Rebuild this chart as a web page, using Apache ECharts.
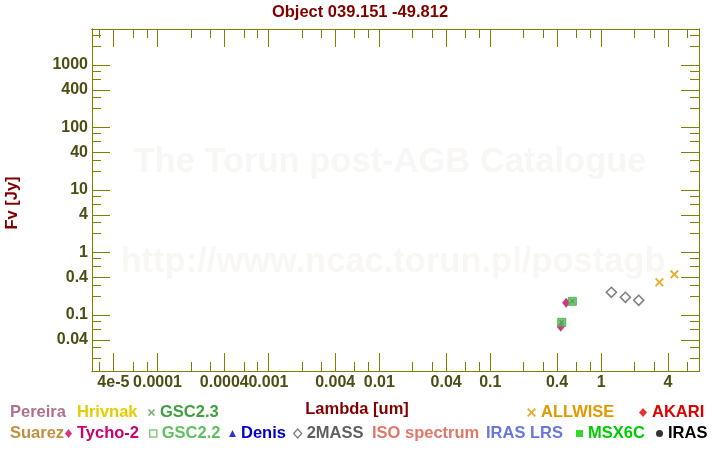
<!DOCTYPE html>
<html><head><meta charset="utf-8">
<script src="https://cdn.jsdelivr.net/npm/echarts@6/dist/echarts.min.js"></script>
<style>html,body{margin:0;padding:0;background:#fff}#c{width:720px;height:450px}</style>
</head><body><div id="c"></div>
<script>
// ---- data ----
const titleText = 'Object 039.151 -49.812';
const xName = 'Lambda [um]';
const yName = 'Fv [Jy]';
const xMajorTicks = [4e-5, 1e-4, 4e-4, 1e-3, 4e-3, 0.01, 0.04, 0.1, 0.4, 1, 4];
const xMajorLabels = ['4e-5', '0.0001', '0.0004', '0.001', '0.004', '0.01', '0.04', '0.1', '0.4', '1', '4'];
const xMinorTicks = [3e-5, 6e-5, 8e-5, 2e-4, 3e-4, 6e-4, 8e-4, 2e-3, 3e-3, 6e-3, 8e-3, 0.02, 0.03, 0.06, 0.08, 0.2, 0.3, 0.6, 0.8, 2, 3, 6];
const yMajorTicks = [0.04, 0.1, 0.4, 1, 4, 10, 40, 100, 400, 1000];
const yMajorLabels = ['0.04', '0.1', '0.4', '1', '4', '10', '40', '100', '400', '1000'];
const yMinorTicks = [0.02, 0.03, 0.06, 0.08, 0.2, 0.3, 0.6, 0.8, 2, 3, 6, 8, 20, 30, 60, 80, 200, 300, 600, 800, 2000, 3000];
const xRange = [2.566e-5, 7.62];
const yRange = [0.01271, 3767];

const pereira = [];
const hrivnak = [];
const suarez = [];
const tycho2 = [[0.432, 0.065], [0.483, 0.157]];
const gsc23 = [[0.441, 0.0764], [0.550, 0.1656]];
const gsc22 = [[0.441, 0.0764], [0.550, 0.1656]];
const denis = [];
const twoMass = [[1.236, 0.231], [1.653, 0.192], [2.18, 0.172]];
const isoSpectrum = [];
const irasLrs = [];
const allwise = [[3.35, 0.334], [4.57, 0.448]];
const akari = [];
const msx6c = [];
const iras = [];

// ---- styles ----
const FONT = 'Liberation Sans, Arial, Helvetica, sans-serif';
const AXIS = '#808000';
const LABEL = '#4d4d14';
const DARKRED = '#800000';
const CROSS = 'path://M0,1.5L1.5,0L5,3.5L8.5,0L10,1.5L6.5,5L10,8.5L8.5,10L5,6.5L1.5,10L0,8.5L3.5,5Z';

function fmt(values, labels) {
  return function (v) {
    let best = 0, bd = Infinity;
    values.forEach((t, i) => { const d = Math.abs(Math.log10(v) - Math.log10(t)); if (d < bd) { bd = d; best = i; } });
    return labels[best];
  };
}

function xAxisDef(position, ticks, len, labels) {
  return {
    type: 'log', logBase: 10, position: position, min: xRange[0], max: xRange[1],
    axisLine: { show: true, onZero: false, lineStyle: { color: AXIS, width: 1 } },
    axisTick: { show: true, inside: true, length: len, customValues: ticks, lineStyle: { color: AXIS, width: 1 } },
    axisLabel: labels ? {
      show: true, customValues: ticks, formatter: fmt(xMajorTicks, xMajorLabels), margin: 4,
      color: LABEL, fontSize: 16, fontWeight: 'bold', fontFamily: FONT, hideOverlap: false
    } : { show: false },
    splitLine: { show: false }, minorTick: { show: false }, minorSplitLine: { show: false }
  };
}
function yAxisDef(position, ticks, len, labels) {
  return {
    type: 'log', logBase: 10, position: position, min: yRange[0], max: yRange[1],
    axisLine: { show: true, onZero: false, lineStyle: { color: AXIS, width: 1 } },
    axisTick: { show: true, inside: true, length: len, customValues: ticks, lineStyle: { color: AXIS, width: 1 } },
    axisLabel: labels ? {
      show: true, customValues: ticks, formatter: fmt(yMajorTicks, yMajorLabels), margin: 4,
      color: LABEL, fontSize: 16, fontWeight: 'bold', fontFamily: FONT, hideOverlap: false
    } : { show: false },
    splitLine: { show: false }, minorTick: { show: false }, minorSplitLine: { show: false }
  };
}

function scatter(name, data, symbol, size, itemStyle, z) {
  return { name: name, type: 'scatter', data: data, symbol: symbol, symbolSize: size,
    itemStyle: itemStyle, xAxisIndex: 0, yAxisIndex: 0, z: z || 3, silent: true, animation: false };
}

const series = [
  scatter('Pereira', pereira, 'circle', 7, { color: '#b07090' }),
  scatter('Hrivnak', hrivnak, 'circle', 7, { color: '#e6cc00' }),
  scatter('Suarez', suarez, 'circle', 7, { color: '#c09040' }),
  scatter('Tycho-2', tycho2, 'diamond', [8, 10], { color: '#cc0066' }),
  scatter('GSC2.2', gsc22, 'rect', 8, { color: '#5cb85c', borderColor: '#45a845', borderWidth: 1 }),
  scatter('GSC2.3', gsc23, CROSS, 5, { color: '#3a9a3a' }),
  scatter('Denis', denis, 'triangle', 7, { color: '#0000cc' }),
  scatter('2MASS', twoMass, 'diamond', 10, { color: '#ffffff', borderColor: '#606060', borderWidth: 1.6 }),
  scatter('ISO spectrum', isoSpectrum, 'circle', 7, { color: '#e07868' }),
  scatter('IRAS LRS', irasLrs, 'circle', 7, { color: '#6677dd' }),
  scatter('ALLWISE', allwise, CROSS, 9, { color: '#e09a00' }),
  scatter('AKARI', akari, 'diamond', 8, { color: '#dd0000' }),
  scatter('MSX6C', msx6c, 'rect', 7, { color: '#00cc00' }),
  scatter('IRAS', iras, 'circle', 7, { color: '#000000' })
];

// legend layout: [name, icon, iconStyle, textColor, left, top, itemWidth, iconHeight]
const R1 = 404, R2 = 425;
const legendLayout = [
  ['Pereira', 'none', null, '#b07090', 5, R1, 0, 7],
  ['Hrivnak', 'none', null, '#e6cc00', 72, R1, 0, 7],
  ['GSC2.3', CROSS, { color: '#40a040' }, '#40a040', 148, R1, 7, 7],
  ['ALLWISE', CROSS, { color: '#e09a00' }, '#e09a00', 527, R1, 9, 9],
  ['AKARI', 'diamond', { color: '#dd0000' }, '#dd0000', 639, R1, 8, 9],
  ['Suarez', 'none', null, '#c09040', 5, R2, 0, 7],
  ['Tycho-2', 'diamond', { color: '#cc0066' }, '#cc0066', 65, R2, 7, 9],
  ['GSC2.2', 'rect', { color: '#ffffff', borderColor: '#60c060', borderWidth: 1.5 }, '#60c060', 149, R2, 7, 7],
  ['Denis', 'triangle', { color: '#0000cc' }, '#0000cc', 229, R2, 7, 7],
  ['2MASS', 'diamond', { color: '#ffffff', borderColor: '#606060', borderWidth: 1.3 }, '#606060', 293, R2, 8, 9],
  ['ISO spectrum', 'none', null, '#e07868', 367, R2, 0, 7],
  ['IRAS LRS', 'none', null, '#6677dd', 481, R2, 0, 7],
  ['MSX6C', 'rect', { color: '#00cc00' }, '#00cc00', 576, R2, 7, 7],
  ['IRAS', 'circle', { color: '#000000' }, '#000000', 656, R2, 7, 7]
];
const legends = legendLayout.map(l => ({
  show: true, left: l[4], top: l[5], padding: 0, itemGap: 0, itemWidth: l[6], itemHeight: l[7],
  selectedMode: false, orient: 'horizontal',
  data: [{ name: l[0], icon: l[1], itemStyle: l[2] || { color: 'transparent' } }],
  textStyle: { color: l[3], fontSize: 16.5, fontWeight: 'bold', fontFamily: FONT, padding: 0 }
}));

const option = {
  animation: false,
  backgroundColor: '#ffffff',
  title: { text: titleText, left: 'center', top: 4, padding: 0,
    textStyle: { color: DARKRED, fontSize: 16.5, fontWeight: 'bold', fontFamily: FONT } },
  grid: { left: 92, top: 29, width: 607, height: 342, containLabel: false },
  xAxis: [
    xAxisDef('bottom', xMajorTicks, 18, true),
    xAxisDef('bottom', xMinorTicks, 9, false),
    xAxisDef('top', xMajorTicks, 18, false),
    xAxisDef('top', xMinorTicks, 9, false)
  ],
  yAxis: [
    yAxisDef('left', yMajorTicks, 18, true),
    yAxisDef('left', yMinorTicks, 9, false),
    yAxisDef('right', yMajorTicks, 18, false),
    yAxisDef('right', yMinorTicks, 9, false)
  ],
  legend: legends,
  graphic: [
    { type: 'text', x: 390, y: 162, z: 0, silent: true,
      style: { text: 'The Torun post-AGB Catalogue', fill: '#f8f7f3', font: 'bold 34.5px ' + FONT, align: 'center', verticalAlign: 'middle' } },
    { type: 'text', x: 393, y: 262, z: 0, silent: true,
      style: { text: 'http://www.ncac.torun.pl/postagb', fill: '#f8f7f3', font: 'bold 34.5px ' + FONT, align: 'center', verticalAlign: 'middle' } },
    { type: 'text', x: 357, y: 409, silent: true,
      style: { text: xName, fill: DARKRED, font: 'bold 16.5px ' + FONT, align: 'center', verticalAlign: 'middle' } },
    { type: 'text', x: 12, y: 203, rotation: Math.PI / 2, silent: true,
      style: { text: yName, fill: DARKRED, font: 'bold 16.5px ' + FONT, align: 'center', verticalAlign: 'middle' } }
  ],
  series: series
};
const chart = echarts.init(document.getElementById('c'), null, { renderer: 'canvas' });
chart.setOption(option);
</script>
</body></html>
